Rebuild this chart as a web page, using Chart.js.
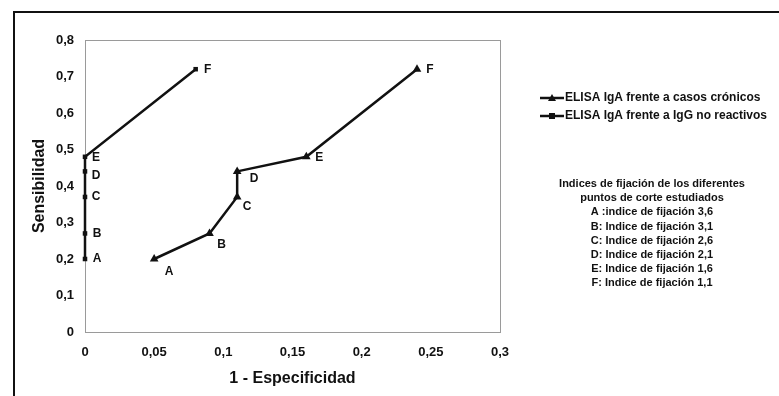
<!DOCTYPE html>
<html>
<head>
<meta charset="utf-8">
<script src="https://cdn.jsdelivr.net/npm/chart.js@4/dist/chart.umd.min.js"></script>
<style>
  html, body { margin: 0; padding: 0; background: #fff; }
  #wrap { position: relative; width: 779px; height: 396px; }
  canvas { display: block; }
</style>
</head>
<body>
<div id="wrap"><canvas id="c" width="779" height="396"></canvas></div>
<script>
// ---- data ----
const pointLabels = ['A', 'B', 'C', 'D', 'E', 'F'];
const cronicosX = [0.05, 0.09, 0.11, 0.11, 0.16, 0.24];
const cronicosY = [0.20, 0.27, 0.37, 0.44, 0.48, 0.72];
const noReactX  = [0, 0, 0, 0, 0, 0.08];
const noReactY  = [0.20, 0.27, 0.37, 0.44, 0.48, 0.72];
const seriesNames = ['ELISA IgA frente a casos crónicos', 'ELISA IgA frente a IgG no reactivos'];
const xTicks = [0, 0.05, 0.1, 0.15, 0.2, 0.25, 0.3];
const yTicks = [0, 0.1, 0.2, 0.3, 0.4, 0.5, 0.6, 0.7, 0.8];
const noteLines = [
  'Indices de fijación de los diferentes',
  'puntos de corte estudiados',
  'A :indice de fijación 3,6',
  'B: Indice de fijación 3,1',
  'C: Indice de fijación 2,6',
  'D: Indice de fijación 2,1',
  'E: Indice de fijación 1,6',
  'F: Indice de fijación 1,1'
];

const toPts = (xs, ys) => xs.map((x, i) => ({x: x, y: ys[i]}));
const fmt = v => String(Math.round(v * 100) / 100).replace('.', ',');
const FONT = '"Liberation Sans", Arial, sans-serif';

// label offsets (presentation only)
const labelOffsets = [
  [[15, 13], [12, 11], [10, 10], [17, 7], [13, 1], [13, 0]],
  [[12, 0], [12, 0], [11, 0], [11, 4], [11, 1], [12, 0]]
];

const decorPlugin = {
  id: 'decor',
  beforeDraw(chart) {
    const ctx = chart.ctx;
    ctx.save();
    ctx.fillStyle = '#fff';
    ctx.fillRect(0, 0, chart.width, chart.height);
    // outer frame
    ctx.strokeStyle = '#111';
    ctx.lineWidth = 2;
    ctx.strokeRect(14, 12, 800, 420);
    // plot area frame
    const a = chart.chartArea;
    ctx.strokeStyle = '#9a9a9a';
    ctx.lineWidth = 1;
    ctx.strokeRect(Math.round(a.left) + 0.5, Math.round(a.top) + 0.5, a.right - a.left, a.bottom - a.top);
    ctx.restore();
  },
  afterDatasetsDraw(chart) {
    const ctx = chart.ctx;
    ctx.save();
    ctx.fillStyle = '#111';
    ctx.font = 'bold 12px ' + FONT;
    ctx.textAlign = 'center';
    ctx.textBaseline = 'middle';
    chart.data.datasets.forEach((ds, di) => {
      const meta = chart.getDatasetMeta(di);
      meta.data.forEach((el, i) => {
        const off = labelOffsets[di][i];
        ctx.fillText(pointLabels[i], el.x + off[0], el.y + off[1]);
      });
    });
    // legend
    const legY = [98, 116];
    chart.data.datasets.forEach((ds, di) => {
      const y = legY[di];
      ctx.strokeStyle = '#111';
      ctx.lineWidth = 2.5;
      ctx.beginPath();
      ctx.moveTo(540, y);
      ctx.lineTo(564, y);
      ctx.stroke();
      ctx.fillStyle = '#111';
      if (ds.pointStyle === 'triangle') {
        ctx.beginPath();
        ctx.moveTo(552, y - 4);
        ctx.lineTo(556, y + 3);
        ctx.lineTo(548, y + 3);
        ctx.closePath();
        ctx.fill();
      } else {
        ctx.fillRect(549, y - 3, 6, 6);
      }
      ctx.font = 'bold 12px ' + FONT;
      ctx.textAlign = 'left';
      ctx.textBaseline = 'middle';
      ctx.fillText(ds.label, 565, y);
    });
    // note
    ctx.font = 'bold 11px ' + FONT;
    ctx.textAlign = 'center';
    noteLines.forEach((t, i) => {
      ctx.fillText(t, 652, 184 + i * 14.2);
    });
    ctx.restore();
  }
};

new Chart(document.getElementById('c'), {
  type: 'scatter',
  data: {
    datasets: [
      {
        label: seriesNames[0],
        data: toPts(cronicosX, cronicosY),
        showLine: true,
        clip: false,
        borderColor: '#111',
        backgroundColor: '#111',
        borderWidth: 2.5,
        pointStyle: 'triangle',
        pointRadius: 5,
        pointBorderWidth: 0,
        tension: 0
      },
      {
        label: seriesNames[1],
        data: toPts(noReactX, noReactY),
        showLine: true,
        clip: false,
        borderColor: '#111',
        backgroundColor: '#111',
        borderWidth: 2.5,
        pointStyle: 'rect',
        pointRadius: 3.2,
        pointBorderWidth: 0,
        tension: 0
      }
    ]
  },
  options: {
    responsive: false,
    animation: false,
    devicePixelRatio: 1,
    layout: { padding: { left: 0, top: 40, right: 279, bottom: 0 } },
    plugins: {
      legend: { display: false },
      tooltip: { enabled: false }
    },
    scales: {
      x: {
        type: 'linear',
        min: 0, max: 0.3,
        afterBuildTicks: s => { s.ticks = xTicks.map(v => ({value: v})); },
        afterFit: s => { s.height = 64; },
        grid: { display: false, drawTicks: false },
        border: { display: false },
        ticks: {
          padding: 13,
          color: '#111',
          font: { family: FONT, size: 13, weight: 'bold' },
          callback: v => fmt(v),
          maxRotation: 0
        },
        title: {
          display: true,
          text: '1 - Especificidad',
          color: '#111',
          font: { family: FONT, size: 16, weight: 'bold' },
          padding: { top: 0, bottom: 8 }
        }
      },
      y: {
        type: 'linear',
        min: 0, max: 0.8,
        afterBuildTicks: s => { s.ticks = yTicks.map(v => ({value: v})); },
        afterFit: s => { s.width = 85; },
        grid: { display: false, drawTicks: false },
        border: { display: false },
        ticks: {
          padding: 11,
          color: '#111',
          font: { family: FONT, size: 13, weight: 'bold' },
          callback: v => fmt(v)
        },
        title: {
          display: true,
          text: 'Sensibilidad',
          color: '#111',
          font: { family: FONT, size: 16, weight: 'bold' },
          padding: { top: 30, bottom: 0 }
        }
      }
    }
  },
  plugins: [decorPlugin]
});
</script>
</body>
</html>
